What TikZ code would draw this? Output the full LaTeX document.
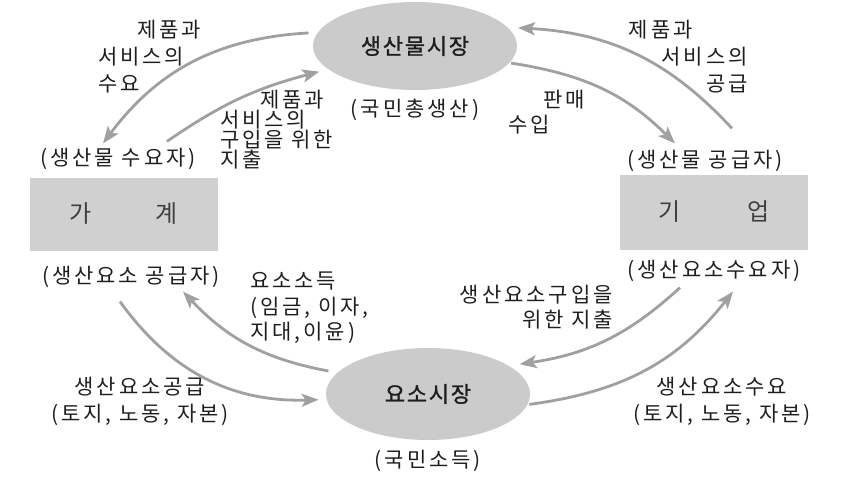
\documentclass[tikz,border=0pt]{standalone}
\usepackage{fontspec}
\setmainfont{Noto Sans CJK KR}[LetterSpace=14]
\newfontfamily\mktfont{Noto Sans CJK KR}[LetterSpace=8, FakeBold=1.2]
\usepackage{tikz}
\usetikzlibrary{shapes.geometric, arrows.meta, positioning}
\definecolor{MktGrey}{HTML}{CBCBCB}
\definecolor{BoxGrey}{HTML}{D0D0D0}
\definecolor{ArrGrey}{HTML}{A0A0A0}
\definecolor{TxtGrey}{HTML}{1E1E1E}
\tikzset{
  mkt/.style={ellipse, fill=MktGrey, minimum width=204pt, minimum height=88pt,
              inner sep=0pt, outer sep=8pt, font=\fontsize{22}{27}\mktfont},
  sector/.style={fill=BoxGrey, minimum width=188pt, minimum height=73pt, inner sep=0pt,
                 font=\fontsize{24}{27}\selectfont, text=TxtGrey!85},
  role/.style={inner sep=1pt},
  flow/.style={inner sep=0pt},
  arr/.style={-{Stealth[length=17pt,width=13pt,inset=4pt]}, line width=2.8pt, draw=ArrGrey}
}

\begin{document}
\begin{tikzpicture}[x=1pt, y=-1pt, node distance=8pt,
  every node/.style={font=\fontsize{21}{27}\selectfont, text=TxtGrey}]
  \useasboundingbox (0,0) rectangle (846,484);
  % markets
  \node[mkt] (goods) at (415,46) {생산물시장};
  \node[mkt, minimum height=92pt] (factor) at (428,394) {요소시장};
  \node[role, below=0pt of goods] (gnp) {(국민총생산)};
  \node[role, below=1pt of factor] (ni) {(국민소득)};
  % sectors
  \node[sector] (hh) at (124,214) {가\hspace{64pt}계};
  \node[sector, minimum height=75pt] (firm) at (714,212) {기\hspace{67pt}업};
  \node[role, above=6pt of hh, xshift=-6pt] (hhD) {(생산물 수요자)};
  \node[role, below=14pt of hh, xshift=7pt] (hhS) {(생산요소 공급자)};
  \node[role, above=1pt of firm, xshift=-9pt] (firmS) {(생산물 공급자)};
  \node[role, below=9pt of firm] (firmD) {(생산요소수요자)};
  % flow labels
  \node[flow, align=left, anchor=west] (gdem) at (98,57) {\hspace*{39pt}제품과\\서비스의\\수요};
  \node[flow, align=right, anchor=east] (gsup) at (748,57) {제품과\hspace*{55pt}\\서비스의\\공급};
  \node[flow, align=left, anchor=west, font=\fontsize{21}{25}\selectfont] (rev) at (508,112) {\hspace*{35pt}판매\\수입};
  \node[flow, align=left, anchor=west, font=\fontsize{21}{20}\selectfont] (spend) at (220,130)
    {\hspace*{40pt}제품과\\서비스의\\구입을 위한\\지출};
  \node[flow, align=left, anchor=west, font=\fontsize{21}{25.5}\selectfont] (inc) at (250,308)
    {요소소득\\(임금, 이자,\\지대,이윤)};
  \node[flow, align=right, anchor=east, font=\fontsize{21}{25}\selectfont] (fspend) at (613,307)
    {생산요소구입을\\위한 지출};
  \node[flow, align=center] (fsup) at (140,401) {생산요소공급\\(토지, 노동, 자본)};
  \node[flow, align=center] (fdem) at (722,401) {생산요소수요\\(토지, 노동, 자본)};
  % goods market loop
  \draw[arr] (goods.173) to[bend right=25] ([xshift=-15pt,yshift=4pt]hhD.north);
  \draw[arr] ([xshift=49pt,yshift=6pt]hhD.north) to[bend left=10] (goods.195);
  \draw[arr, shorten <=-7pt] (goods.350) to[bend left=18] ([xshift=-30pt,yshift=6pt]firmS.north);
  \draw[arr] ([xshift=27pt,yshift=21pt]firmS.north) to[bend right=22] (goods.10);
  % factor market loop
  \draw[arr] ([xshift=-11pt,yshift=-13pt]hhS.south) to[bend right=28] (factor.183);
  \draw[arr] (factor.167) to[bend left=18] ([xshift=52pt,yshift=-3pt]hhS.south);
  \draw[arr] ([xshift=-34pt,yshift=-5pt]firmD.south) to[bend left=17] (factor.18);
  \draw[arr, shorten <=-7pt] (factor.355) to[bend right=22] ([xshift=19pt,yshift=-9pt]firmD.south);
\end{tikzpicture}
\end{document}
